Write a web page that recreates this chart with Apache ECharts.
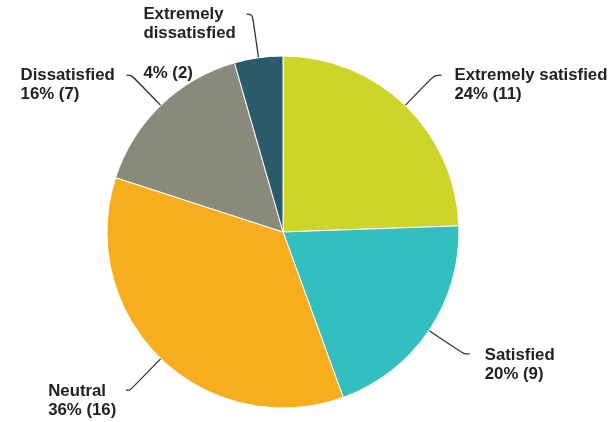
<!DOCTYPE html>
<html><head><meta charset="utf-8">
<script src="https://cdn.jsdelivr.net/npm/echarts@6/dist/echarts.min.js"></script>
<style>html,body{margin:0;padding:0;background:#fff}#c{width:613px;height:422px}</style>
</head><body><div id="c"></div>
<script>
const categories = ['Extremely satisfied', 'Satisfied', 'Neutral', 'Dissatisfied', 'Extremely dissatisfied'];
const counts = [11, 9, 16, 7, 2];
const colors = ['#CDD42A', '#33BEC0', '#F6AD1E', '#8A8A7A', '#2B5C6B'];
const labelNameLines = [['Extremely satisfied'], ['Satisfied'], ['Neutral'], ['Dissatisfied'], ['Extremely', 'dissatisfied']];

// label layout tuning (not data)
const labelCfg = [
  { length: 42, length2: 7, dist: 13, padTop: 20, w: 160 },
  { length: 42, length2: 6, dist: 15, padTop: 22, w: 80 },
  { length: 44, length2: 4, dist: 6, padTop: 22, w: 72 },
  { length: 42, length2: 5, dist: 11, padTop: 20, w: 95 },
  { length: 44, length2: 6, dist: 8, padTop: 60, w: 95, gap: true }
];

const FONT = '"Liberation Sans", Arial, sans-serif';
const data = categories.map((name, i) => {
  const c = labelCfg[i];
  return {
    name: name,
    value: counts[i],
    itemStyle: { color: colors[i] },
    labelLine: { length: c.length, length2: c.length2 },
    label: {
      distanceToLabelLine: c.dist,
      padding: [c.padTop, 0, 0, 0],
      rich: {
        t: { width: c.w, align: 'left', fontFamily: FONT, fontSize: 16.8, fontWeight: 'bold', lineHeight: 19, color: '#222' },
        g: { fontSize: 10, lineHeight: 21, height: 21 }
      }
    }
  };
});

const chart = echarts.init(document.getElementById('c'), null, { renderer: 'canvas' });
chart.setOption({
  animation: false,
  backgroundColor: '#fff',
  series: [{
    type: 'pie',
    center: [283, 232],
    radius: [0, 176],
    startAngle: 90,
    clockwise: true,
    percentPrecision: 0,
    avoidLabelOverlap: false,
    itemStyle: { borderColor: '#fff', borderWidth: 1 },
    emphasis: { disabled: true },
    label: {
      show: true,
      position: 'outside',
      alignTo: 'none',
      formatter: function (p) {
        const i = p.dataIndex;
        const lines = labelNameLines[i].map(s => '{t|' + s + '}');
        if (labelCfg[i].gap) lines.push('{g| }');
        lines.push('{t|' + p.percent + '% (' + p.value + ')}');
        return lines.join('\n');
      }
    },
    labelLine: {
      show: true,
      smooth: 0.35,
      lineStyle: { color: '#333', width: 1.3 }
    },
    data: data
  }]
});
</script>
</body></html>
